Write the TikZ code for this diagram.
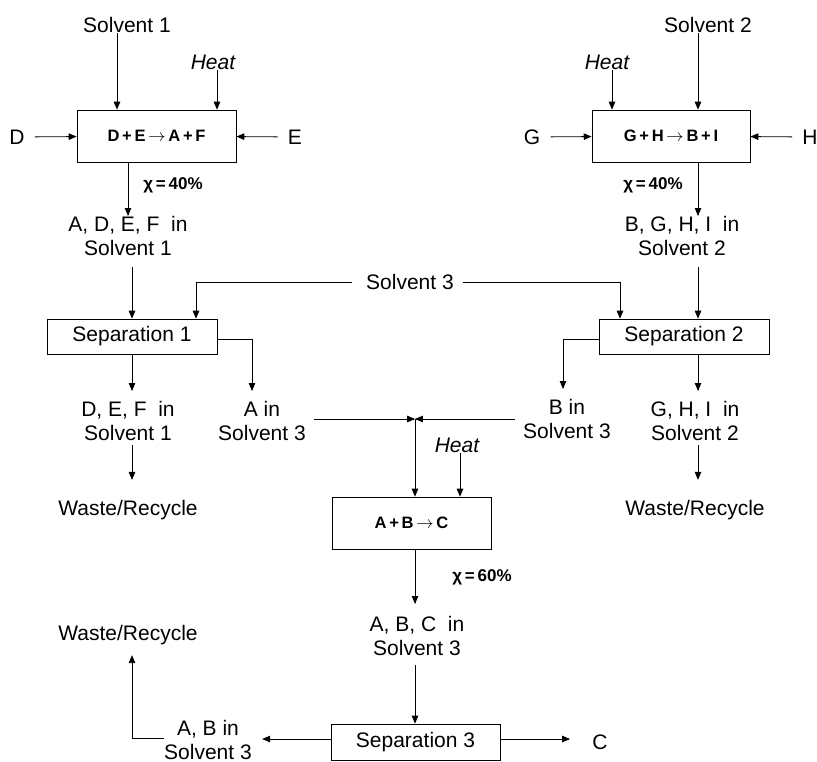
\documentclass[tikz,border=0pt]{standalone}
\usepackage{fontspec}
\setmainfont{Liberation Sans}
\usetikzlibrary{arrows,positioning}
\tikzset{arrows={-triangle 45}}
\newcommand{\yields}{\,$\rightarrow$\,}
\tikzset{
  lbl/.style={inner sep=0pt, align=center, font=\fontsize{21}{24}\selectfont},
  heat/.style={lbl, font=\itshape\fontsize{21}{24}\selectfont},
  conv/.style={inner sep=0pt, font=\bfseries\fontsize{17}{20}\selectfont},
  rxnbox/.style={draw, inner sep=0pt, minimum width=159pt, minimum height=52pt,
    font=\bfseries\fontsize{16.5}{20}\selectfont},
  sepbox/.style={draw, inner sep=0pt, minimum width=170pt, minimum height=35pt,
    font=\fontsize{21}{24}\selectfont}
}

\begin{document}
\begin{tikzpicture}[x=1pt, y=-1pt, line width=0.8pt]
    \useasboundingbox (0,0) rectangle (817,761);

    % first reactor
    \node[rxnbox] (R1) at (156.5,136) {D\,+\,E\yields A\,+\,F};
    \node[lbl] (S1) at (127,25) {Solvent 1};
    \node[heat] (H1) at (213,62) {Heat};
    \node[lbl] (D) at (17,137) {D};
    \node[lbl] (E) at (295,137) {E};
    \node[conv] (X1) at (173,185) {χ\,=\,40\%};
    \node[lbl] (P1) at (128,236) {A, D, E, F~ in\\Solvent 1};

    % second reactor
    \node[rxnbox, minimum width=158pt] (R2) at (671,136) {G\,+\,H\yields B\,+\,I};
    \node[lbl] (S2) at (708,25) {Solvent 2};
    \node[heat] (H2) at (607,62) {Heat};
    \node[lbl] (G) at (532,137) {G};
    \node[lbl] (H) at (810,137) {H};
    \node[conv] (X2) at (653,185) {χ\,=\,40\%};
    \node[lbl] (P2) at (682,236) {B, G, H, I~ in\\Solvent 2};

    % separations 1 and 2
    \node[lbl] (S3) at (410,282) {Solvent 3};
    \node[sepbox] (Sep1) at (132,336.5) {Separation 1};
    \node[sepbox] (Sep2) at (684,336.5) {Separation 2};
    \node[lbl] (O1) at (128,421) {D, E, F~ in\\Solvent 1};
    \node[lbl] (A3) at (262,421) {A in\\Solvent 3};
    \node[lbl] (B3) at (567,419) {B in\\Solvent 3};
    \node[lbl] (O2) at (695,421) {G, H, I~ in\\Solvent 2};
    \node[lbl] (W1) at (128,510) {Waste/Recycle};
    \node[lbl] (W2) at (695,510) {Waste/Recycle};

    % third reactor
    \coordinate (J) at (415,419);
    \node[rxnbox] (R3) at (411.5,523) {A\,+\,B\yields C};
    \node[heat] (H3) at (457,445) {Heat};
    \node[conv] (X3) at (482,577) {χ\,=\,60\%};
    \node[lbl] (P3) at (417,636) {A, B, C~ in\\Solvent 3};
    \node[sepbox, minimum width=169pt, minimum height=36pt] (Sep3) at (415.5,742) {Separation 3};
    \node[lbl] (AB3) at (208,740) {A, B in\\Solvent 3};
    \node[lbl] (C) at (600,742) {C};
    \node[lbl] (W3) at (128,635) {Waste/Recycle};

    \draw ([xshift=-10pt]S1.south) -- ([xshift=-10pt]S1.south |- R1.north);
    \draw ([xshift=4pt]H1.south) -- ([xshift=4pt]H1.south |- R1.north);
    \draw[shorten <=10pt] (D) -- (R1);
    \draw[shorten <=10pt] (E) -- (R1);
    \draw (R1.south -| P1.north) -- (P1.north);
    \draw ([xshift=-10pt]S2.south) -- ([xshift=-10pt]S2.south |- R2.north);
    \draw ([xshift=5pt]H2.south) -- ([xshift=5pt]H2.south |- R2.north);
    \draw[shorten <=10pt] (G) -- (R2);
    \draw[shorten <=10pt] (H) -- (R2);
    \draw ([xshift=27pt]R2.south) -- ([xshift=27pt]R2.south |- P2.north);

    \draw[shorten <=11pt] (Sep1.north |- P1.south) -- (Sep1.north);
    \draw[shorten <=11pt] ([xshift=14pt]Sep2.north |- P2.south) -- ([xshift=14pt]Sep2.north);
    \draw[shorten <=14pt] (S3.west) -| ([xshift=64pt]Sep1.north);
    \draw[shorten <=9pt] (S3.east) -| ([xshift=-64pt]Sep2.north);

    \draw[shorten >=10pt] (Sep1.south) -- (Sep1.south |- O1.north);
    \draw[shorten >=10pt] ([yshift=-3pt]Sep1.east) -| ([xshift=-10pt]A3.north);
    \draw[shorten >=10pt] ([yshift=-3pt]Sep2.west) -| ([xshift=-4pt]B3.north);
    \draw[shorten >=10pt] ([xshift=14pt]Sep2.south) -- ([xshift=14pt]Sep2.south |- O2.north);
    \draw[shorten <=4pt, shorten >=20pt] (Sep1.south |- O1.south) -- (Sep1.south |- W1.north);
    \draw[shorten <=4pt, shorten >=20pt] ([xshift=14pt]Sep2.south |- O2.south) -- ([xshift=14pt]Sep2.south |- W2.north);

    \draw[shorten <=8pt] (A3.east |- J) -- (J);
    \draw[shorten <=8pt] (B3.west |- J) -- (J);
    \draw (J) -- (J |- R3.north);
    \draw ([xshift=3pt]H3.south) -- ([xshift=3pt]H3.south |- R3.north);
    \draw[shorten >=12pt] (J |- R3.south) -- (J |- P3.north);
    \draw[shorten <=9pt] (J |- P3.south) -- (J |- Sep3.north);
    \draw[shorten >=22pt] ([yshift=3pt]Sep3.east) -- ([yshift=3pt]Sep3.east -| C.west);
    \draw[shorten >=10pt] ([yshift=3pt]Sep3.west) -- ([yshift=3pt]Sep3.west -| AB3.east);
    \draw[shorten >=10pt] ([yshift=2pt]AB3.west) -| ([xshift=4pt]W3.south);
  \end{tikzpicture}
\end{document}
